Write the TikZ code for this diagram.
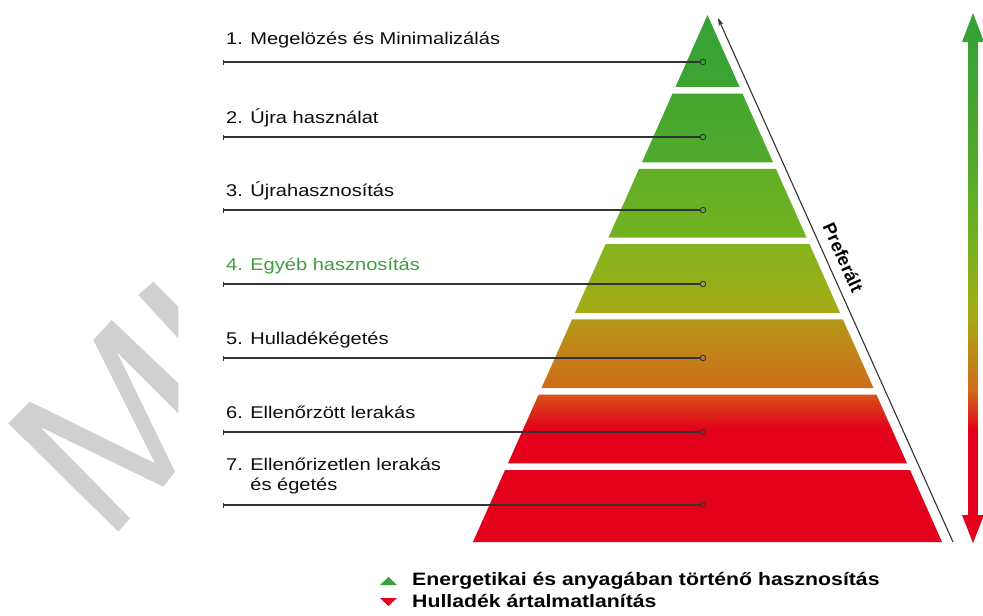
\documentclass[tikz,border=0pt]{standalone}
\usepackage{fontspec}
\setmainfont{Liberation Sans}[FakeStretch=1.18]
\newfontfamily\plainsans{Liberation Sans}
\usetikzlibrary{arrows.meta,positioning,calc}
\definecolor{layAt}{HTML}{36A234}
\definecolor{layAb}{HTML}{3DA432}
\definecolor{layBt}{HTML}{44A630}
\definecolor{layBb}{HTML}{52AA2C}
\definecolor{layCt}{HTML}{62AE27}
\definecolor{layCb}{HTML}{72B221}
\definecolor{layDt}{HTML}{82B51D}
\definecolor{layDb}{HTML}{A6AA16}
\definecolor{layEt}{HTML}{B49818}
\definecolor{layEb}{HTML}{CF6C19}
\definecolor{layFt}{HTML}{D8501A}
\definecolor{layred}{HTML}{E2001A}
\definecolor{leadgray}{HTML}{333333}
\definecolor{markgray}{HTML}{D0D0D0}
\definecolor{lblgreen}{HTML}{3D9E3D}

\begin{document}
\begin{tikzpicture}[
  x=1pt, y=-1pt,
  lbl/.style={font=\fontsize{17}{20}\selectfont, anchor=base west, inner sep=0pt, text=black!95, align=left},
  lead/.style={draw=leadgray, line width=1.3pt},
  dot/.style={circle, draw=leadgray, line width=0.9pt, inner sep=0pt, minimum size=5.5pt},
  prefarr/.style={{Stealth[length=8pt,width=5pt]}-, draw=leadgray, line width=1.1pt},
  pref/.style={font=\plainsans\bfseries\fontsize{18}{20}\selectfont, inner sep=0pt},
  leg/.style={font=\bfseries\fontsize{18}{21}\selectfont, anchor=base west, inner sep=0pt},
]
\useasboundingbox (0,0) rectangle (983,616);

%% Vízjel (szürke betűtöredék)
\fill[markgray] (8.3,423.3) -- (30,401.7) -- (155,463.3) -- (93.3,340) -- (111.7,320)
  -- (178.3,383.3) -- (178.3,413.3) -- (116.7,351.7) -- (175,471.7) -- (163.3,486.7)
  -- (40,426.7) -- (130,518.3) -- (118.3,531.7) -- cycle;
\fill[markgray] (138.3,295) -- (153.3,281.7) -- (178.3,306.7) -- (178.3,338.3) -- cycle;

%% Piramis szintjei
\foreach \i/\ct/\cm/\cb in {1/layAt/layAt!50!layAb/layAb, 2/layBt/layBt!50!layBb/layBb,
    3/layCt/layCt!50!layCb/layCb, 4/layDt/layDt!50!layDb/layDb,
    5/layEt/layEt!50!layEb/layEb, 6/layFt/layred/layred, 7/layred/layred/layred} {
  \pgfmathsetmacro\yt{15+(\i-1)*75.286+(\i>1)*3.3}
  \pgfmathsetmacro\yb{15+\i*75.286-(\i<7)*3.3}
  \pgfmathsetmacro\wt{(\yt-15)*0.445}
  \pgfmathsetmacro\wb{(\yb-15)*0.445}
  \shade[top color=\ct, bottom color=\cb, middle color=\cm]
    (707.5-\wt,\yt) -- (707.5+\wt,\yt) -- (707.5+\wb,\yb) -- (707.5-\wb,\yb) -- cycle;
}

%% Jobb oldali színátmenetes kettős nyíl
\foreach \ya/\yb/\ca/\cb in {40/165/layAt/layBb, 164.5/240/layBb/layCb, 239.5/316/layCb/layDb,
    315.5/391/layDb/layEb, 390.5/430/layEb/layred, 429.5/517/layred/layred} {
  \shade[top color=\ca, bottom color=\cb] (968.5,\ya) rectangle (977.5,\yb);
}
\fill[layAt] (973,13) -- (984,42) -- (962,42) -- cycle;
\fill[layred] (973,543) -- (984,515) -- (962,515) -- cycle;

%% Preferált nyíl
\coordinate (preftop) at (718,18);
\coordinate (prefbot) at (953,542);
\draw[prefarr] (preftop) -- node[pos=0.47, sloped, above=9pt, pref] {Preferált} (prefbot);

%% Feliratok
\node[lbl] (lbl1) at (226,44)  {1. Megelözés és Minimalizálás};
\node[lbl] (lbl2) at (226,123) {2. Újra használat};
\node[lbl] (lbl3) at (226,196) {3. Újrahasznosítás};
\node[lbl, text=lblgreen] (lbl4) at (226,270) {4. Egyéb hasznosítás};
\node[lbl] (lbl5) at (226,344) {5. Hulladékégetés};
\node[lbl] (lbl6) at (226,418) {6. Ellenőrzött lerakás};
\node[lbl] (lbl7) at (226,490) {7. Ellenőrizetlen lerakás\\\phantom{7. }és égetés};

%% Vezetővonalak a szintekhez
\foreach \i/\y in {1/62, 2/137, 3/210, 4/284, 5/358, 6/432, 7/505} {
  \coordinate (tick\i) at (223,\y);
  \node[dot] (dot\i) at (703,\y) {};
  \draw[lead] (tick\i) -- (dot\i);
  \draw[lead, line width=1pt] ([yshift=2.5pt]tick\i) -- ([yshift=-2.5pt]tick\i);
}

%% Jelmagyarázat
\fill[layAt] (380,585) -- (397,585) -- (388.5,577) -- cycle;
\fill[layred] (380,598) -- (397,598) -- (388.5,606) -- cycle;
\node[leg] (leg1) at (412,585) {Energetikai és anyagában történő hasznosítás};
\node[leg] (leg2) at (412,607) {Hulladék ártalmatlanítás};

\end{tikzpicture}
\end{document}
